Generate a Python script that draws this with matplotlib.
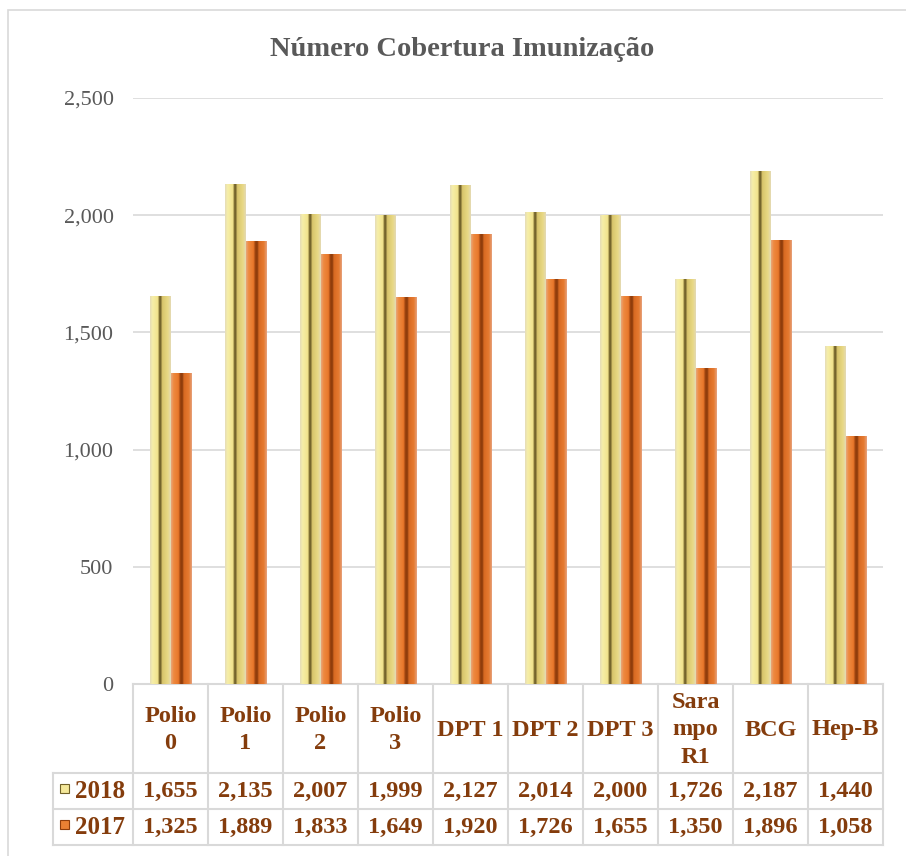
import matplotlib
matplotlib.use("Agg")
import matplotlib.pyplot as plt
import matplotlib.transforms as mtransforms
import numpy as np
from matplotlib.colors import LinearSegmentedColormap
from matplotlib.patches import Rectangle

# data
categories = ['Polio\n0', 'Polio\n1', 'Polio\n2', 'Polio\n3', 'DPT 1', 'DPT 2',
              'DPT 3', 'Sara\nmpo\nR1', 'BCG', 'Hep-B']
series_names = ['2018', '2017']
values_2018 = [1655, 2135, 2007, 1999, 2127, 2014, 2000, 1726, 2187, 1440]
values_2017 = [1325, 1889, 1833, 1649, 1920, 1726, 1655, 1350, 1896, 1058]
y_ticks = [0, 500, 1000, 1500, 2000, 2500]

plt.rcParams['font.family'] = ['Liberation Serif', 'DejaVu Serif']

W, H = 906, 856
fig = plt.figure(figsize=(W / 100, H / 100), dpi=100)


def fx(px):
    return px / W


def fy(py):
    return 1 - py / H


brown = '#843C0C'
grid_col = '#D9D9D9'
text_gray = '#595959'

# outer chart border
fig.patches.append(Rectangle((fx(8), fy(870)), fx(920) - fx(8), fy(10) - fy(870),
                             transform=fig.transFigure, fill=False,
                             edgecolor='#D9D9D9', linewidth=1.2))

fig.text(fx(462), fy(50), 'Número Cobertura Imunização', ha='center', va='center',
         fontsize=20.5, fontweight='bold', color=text_gray)

ax = fig.add_axes([fx(133), fy(684), fx(883) - fx(133), fy(98) - fy(684)])
for s in ax.spines.values():
    s.set_visible(False)

# shaded bar look (light edge, body, dark stripe, body, light edge)
cmap_2018 = LinearSegmentedColormap.from_list('c18', [
    (0.0, '#E6DDB8'), (0.12, '#F6EEA8'), (0.38, '#F2E38C'), (0.44, '#7A6A2E'),
    (0.52, '#6E5E28'), (0.58, '#D8C46A'), (0.86, '#E9D985'), (1.0, '#E4D9B4')])
cmap_2017 = LinearSegmentedColormap.from_list('c17', [
    (0.0, '#E8A67A'), (0.12, '#EE8A40'), (0.36, '#E8772A'), (0.44, '#9A420E'),
    (0.54, '#8A3A0A'), (0.62, '#D86A22'), (0.86, '#E67A30'), (1.0, '#E6A27C')])

x = np.arange(len(categories))
width = 0.27
grad = np.linspace(0, 1, 64).reshape(1, -1)

for vals, off, cmap in [(values_2018, -0.135, cmap_2018), (values_2017, 0.135, cmap_2017)]:
    bars = ax.bar(x + off, vals, width, color='none', edgecolor='none', zorder=3)
    for b in bars:
        x0 = b.get_x()
        im = ax.imshow(grad, extent=[x0, x0 + b.get_width(), 0, b.get_height()],
                       aspect='auto', cmap=cmap, zorder=3, interpolation='bilinear')
        im.set_clip_path(b)

ax.set_xlim(-0.5, len(categories) - 0.5)
ax.set_ylim(0, 2500)
ax.set_yticks(y_ticks)
ax.set_yticklabels([f'{v:,}' for v in y_ticks])
ax.tick_params(axis='y', length=0, pad=14, labelsize=16, labelcolor=text_gray)
ax.set_xticks([])
ax.grid(axis='y', color=grid_col, linewidth=1.2, zorder=0)
ax.set_axisbelow(True)

# data table below the plot
trans = mtransforms.blended_transform_factory(ax.transData, fig.transFigure)
n = len(categories)
row_y = [684, 773, 809, 845]
lw = 1.5
for yy in row_y:
    x_left = -0.5 if yy == 684 else -0.5 - 80 / 75
    ax.plot([x_left, n - 0.5], [fy(yy), fy(yy)], transform=trans, color=grid_col,
            linewidth=lw, clip_on=False)
for i in range(n + 1):
    ax.plot([i - 0.5, i - 0.5], [fy(684), fy(845)], transform=trans, color=grid_col,
            linewidth=lw, clip_on=False)
ax.plot([-0.5 - 80 / 75] * 2, [fy(773), fy(845)], transform=trans, color=grid_col,
        linewidth=lw, clip_on=False)

tfont = dict(fontsize=17.5, fontweight='bold', color=brown, ha='center', va='center')
for i, c in enumerate(categories):
    ax.text(i, fy(730), c, transform=trans, linespacing=1.4, clip_on=False, **tfont)
for row, (name, vals, cmap) in enumerate([(series_names[0], values_2018, cmap_2018),
                                          (series_names[1], values_2017, cmap_2017)]):
    yc = fy(row_y[row + 1] + 18)
    for i, v in enumerate(vals):
        ax.text(i, yc, f'{v:,}', transform=trans, clip_on=False, **tfont)
    fig.text(fx(100), yc, name, transform=fig.transFigure, fontsize=18,
             fontweight='bold', color=brown, ha='center', va='center')
    fig.patches.append(Rectangle((fx(60), yc - 0.002), fx(9), 9 / H,
                                 transform=fig.transFigure,
                                 facecolor=cmap(0.25), edgecolor=cmap(0.5), linewidth=0.8))

fig.savefig('out.png', dpi=100)
